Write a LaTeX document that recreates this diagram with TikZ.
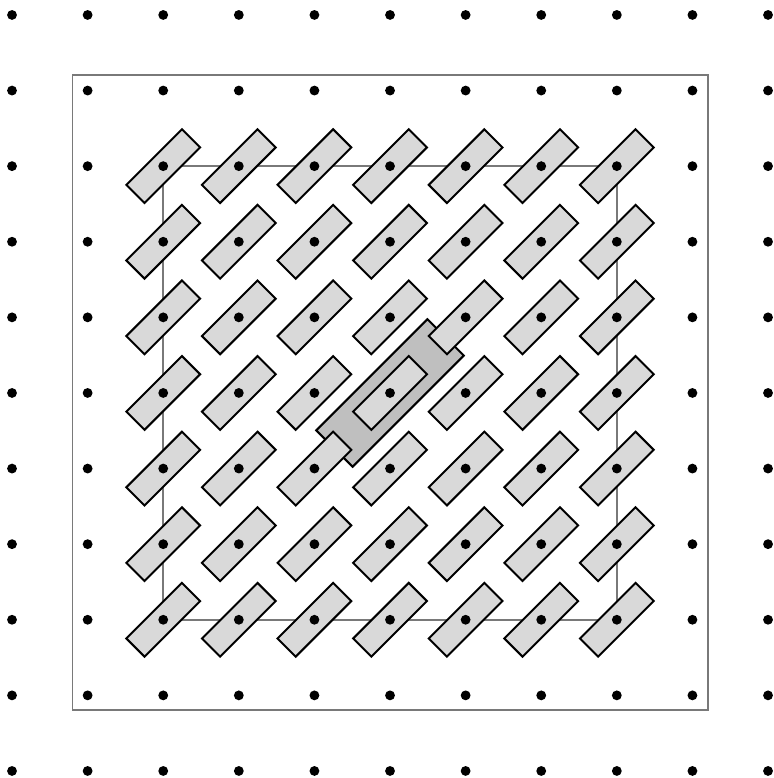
\documentclass[tikz,border=0pt]{standalone}
\usepackage{tikz}
\usetikzlibrary{positioning}
\tikzset{
  gridpt/.style={circle, fill=black, inner sep=0pt, minimum size=0.13cm},
  frame/.style={draw=gray!95!black, line width=0.75pt},
  tile/.style={draw, line width=0.75pt, fill=gray!30, rectangle, rotate=45, inner sep=0pt, minimum width=1.04cm, minimum height=0.34cm},
  bigtile/.style={draw, line width=0.75pt, fill=gray!50, rectangle, rotate=45, inner sep=0pt, minimum width=2.08cm, minimum height=0.68cm}
}
\begin{document}
\begin{tikzpicture}[x=1cm,y=1cm]
  \useasboundingbox (-0.159,-0.093) rectangle (10.079,10.198);

  % frames
  \node[frame, rectangle, inner sep=0pt, minimum size=8.4cm] (outer) at (5,5) {};
  \node[frame, rectangle, inner sep=0pt, minimum size=6cm] (inner) at (5,5) {};

  % enlarged tile in the middle
  \node[bigtile] (big) at (5,5) {};

  % tiles
  \foreach \i in {2,...,8}
    \foreach \j in {2,...,8}
      \node[tile] (t-\i-\j) at (\i,\j) {};

  % lattice points
  \foreach \i in {0,...,10}
    \foreach \j in {0,...,10}
      \node[gridpt] (p-\i-\j) at (\i,\j) {};
\end{tikzpicture}
\end{document}
